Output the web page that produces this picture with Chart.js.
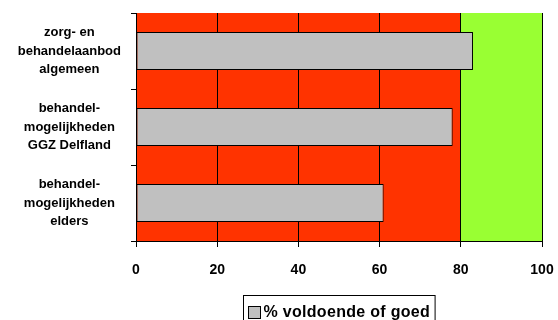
<!DOCTYPE html>
<html>
<head>
<meta charset="utf-8">
<script src="https://cdn.jsdelivr.net/npm/chart.js@4"></script>
<style>
  html, body { margin: 0; padding: 0; background: #ffffff; }
  #wrap { width: 558px; height: 320px; overflow: hidden; }
</style>
</head>
<body>
<div id="wrap"><canvas id="c" width="558" height="320"></canvas></div>
<script>
// Survey items (multi-line labels) and share rated sufficient or good
const categories = [
  ["zorg- en", "behandelaanbod", "algemeen"],
  ["behandel-", "mogelijkheden", "GGZ Delfland"],
  ["behandel-", "mogelijkheden", "elders"]
];
const values = [83, 78, 61];
const xTicks = [0, 20, 40, 60, 80, 100];
const seriesName = "% voldoende of goed";
// Background zones: below 80 red, 80 and up green
const zoneLimits = [0, 80, 100];
const zoneColors = ["#FF3300", "#99FF33"];

const FONT = "'Liberation Sans', Arial, sans-serif";

// Paints the coloured zones behind the grid and bars
const zonePlugin = {
  id: "zones",
  beforeDraw(chart) {
    const { ctx, chartArea, scales } = chart;
    const x = scales.x;
    ctx.save();
    for (let i = 0; i < zoneColors.length; i++) {
      const x0 = x.getPixelForValue(zoneLimits[i]);
      const x1 = x.getPixelForValue(zoneLimits[i + 1]);
      ctx.fillStyle = zoneColors[i];
      ctx.fillRect(x0, chartArea.top, x1 - x0, chartArea.bottom - chartArea.top);
    }
    ctx.restore();
  }
};

// Boxed legend centred under the plot area
const boxLegendPlugin = {
  id: "boxLegend",
  afterDraw(chart) {
    const { ctx, chartArea } = chart;
    const ds = chart.data.datasets[0];
    ctx.save();
    ctx.font = "bold 16px " + FONT;
    if ("letterSpacing" in ctx) ctx.letterSpacing = "0.3px";
    const tw = ctx.measureText(ds.label).width;
    const sw = 12, gap = 3, pad = 5;
    const w = pad + sw + gap + tw + pad;
    const cx = (chartArea.left + chartArea.right) / 2;
    const left = Math.round(cx - w / 2) + 0.5;
    const top = Math.round(chartArea.bottom + 54) + 0.5;
    ctx.lineWidth = 1;
    ctx.strokeStyle = "#000";
    ctx.fillStyle = "#fff";
    ctx.fillRect(left, top, w, 40);
    ctx.strokeRect(left, top, w, 40);
    const sy = top + 11;
    ctx.fillStyle = ds.backgroundColor;
    ctx.fillRect(left + pad, sy, sw, sw);
    ctx.strokeRect(left + pad, sy, sw, sw);
    ctx.fillStyle = "#000";
    ctx.textBaseline = "alphabetic";
    ctx.textAlign = "left";
    ctx.fillText(ds.label, left + pad + sw + gap, top + 21);
    ctx.restore();
  }
};

new Chart(document.getElementById("c"), {
  type: "bar",
  data: {
    labels: categories,
    datasets: [{
      label: seriesName,
      data: values,
      backgroundColor: "#C0C0C0",
      borderColor: "#000000",
      borderWidth: 1,
      borderSkipped: false,
      barPercentage: 0.5,
      categoryPercentage: 1.0
    }]
  },
  options: {
    indexAxis: "y",
    responsive: false,
    devicePixelRatio: 1,
    animation: false,
    layout: { padding: { top: 13, right: 16, bottom: 0, left: 0 } },
    plugins: {
      legend: { display: false },
      tooltip: { enabled: false }
    },
    scales: {
      x: {
        type: "linear",
        min: xTicks[0],
        max: xTicks[xTicks.length - 1],
        afterBuildTicks(scale) { scale.ticks = xTicks.map(v => ({ value: v })); },
        afterFit(scale) {
          scale.height = 79;
          scale.paddingLeft = 0;
          scale.paddingRight = 0;
        },
        ticks: {
          color: "#000",
          font: { family: FONT, size: 14, weight: "bold" },
          padding: 15,
          maxRotation: 0
        },
        grid: { color: "#000", lineWidth: 1, tickLength: 6, drawOnChartArea: true },
        border: { display: true, color: "#000", width: 1 }
      },
      y: {
        type: "category",
        afterFit(scale) {
          scale.width = 136;
          scale.paddingTop = 0;
          scale.paddingBottom = 0;
        },
        ticks: {
          color: "#000",
          font: { family: FONT, size: 13, weight: "bold", lineHeight: 1.4 },
          crossAlign: "center",
          padding: 10
        },
        grid: { color: "#000", lineWidth: 1, tickLength: 5, drawOnChartArea: false, offset: true },
        border: { display: true, color: "#000", width: 1 }
      }
    }
  },
  plugins: [zonePlugin, boxLegendPlugin]
});
</script>
</body>
</html>
